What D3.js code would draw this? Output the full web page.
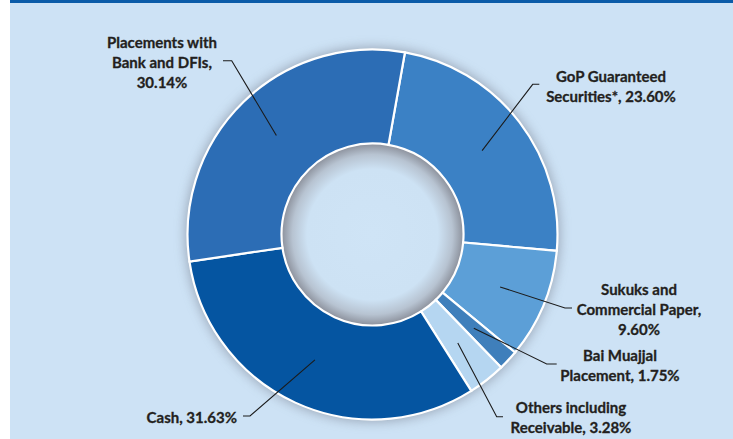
<!DOCTYPE html>
<html>
<head>
<meta charset="utf-8">
<script src="https://cdn.jsdelivr.net/npm/d3@7"></script>
<style>
  html, body { margin: 0; padding: 0; background: #ffffff; }
  svg { display: block; }
  text { font-family: Lato, "Open Sans", sans-serif; font-weight: 700; fill: #231f20; stroke: #231f20; stroke-width: 0.3px; }
</style>
</head>
<body>
<svg id="chart" width="733" height="439"></svg>
<script>
// Portfolio composition, clockwise from just right of 12 o'clock
const categories = [
  "GoP Guaranteed Securities*",
  "Sukuks and Commercial Paper",
  "Bai Muajjal Placement",
  "Others including Receivable",
  "Cash",
  "Placements with Bank and DFIs"
];
const shares = [23.60, 9.60, 1.75, 3.28, 31.63, 30.14];
const labelLines = [
  ["GoP Guaranteed", "Securities*, 23.60%"],
  ["Sukuks and", "Commercial Paper,", "9.60%"],
  ["Bai Muajjal", "Placement, 1.75%"],
  ["Others including", "Receivable, 3.28%"],
  ["Cash, 31.63%"],
  ["Placements with", "Bank and DFIs,", "30.14%"]
];
const sliceColors = ["#3b81c5", "#5c9fd7", "#3f7fbb", "#b5d6f1", "#0555a1", "#2c6db5"];

// Label placement: text anchor point, leader elbow and leader end
const labelLayout = [
  { x: 611, y: 82,  anchor: "middle", elbow: [532.7, 84.3], end: [539.3, 84.3] },
  { x: 639, y: 295, anchor: "middle", elbow: [565, 308],   end: [572, 308] },
  { x: 620, y: 361, anchor: "middle", elbow: [546.7, 364], end: [556.7, 364] },
  { x: 571, y: 413, anchor: "middle", elbow: [496.7, 416.7], end: [503, 416.7] },
  { x: 237, y: 423, anchor: "end",    elbow: [250, 416],   end: [243, 416] },
  { x: 162, y: 48,  anchor: "middle", elbow: [231.7, 60.7], end: [223, 60.7] }
];

const W = 733, H = 439;
const cx = 372.5, cy = 234.5, rOuter = 185, rInner = 91;
const lineHeight = 20;

const svg = d3.select("#chart");
const defs = svg.append("defs");

// soft shadow around the ring
const blur = defs.append("filter").attr("id", "ringShadow")
  .attr("x", "-20%").attr("y", "-20%").attr("width", "140%").attr("height", "140%");
blur.append("feGaussianBlur").attr("stdDeviation", 6);

// inner hole shading
const hole = defs.append("radialGradient").attr("id", "holeShade");
hole.append("stop").attr("offset", "0%").attr("stop-color", "#cfe4f6");
hole.append("stop").attr("offset", "72%").attr("stop-color", "#cde2f4");
hole.append("stop").attr("offset", "88%").attr("stop-color", "#b7c3d1");
hole.append("stop").attr("offset", "100%").attr("stop-color", "#8b909b");

// panel
svg.append("rect").attr("x", 0).attr("y", 0).attr("width", W).attr("height", H).attr("fill", "#ffffff");
svg.append("rect").attr("x", 10).attr("y", 0).attr("width", W - 10).attr("height", H).attr("fill", "#cde2f5");
svg.append("rect").attr("x", 10).attr("y", 0).attr("width", W - 10).attr("height", 3).attr("fill", "#0b5ba8");

const g = svg.append("g").attr("transform", `translate(${cx},${cy})`);

g.append("circle").attr("r", rOuter + 2).attr("fill", "#6e7583").attr("opacity", 0.55)
  .attr("filter", "url(#ringShadow)");

const startOffset = 10.1 * Math.PI / 180;
const pie = d3.pie().sort(null).value(d => d)
  .startAngle(startOffset).endAngle(startOffset + 2 * Math.PI);
const arcs = pie(shares);
const arc = d3.arc().innerRadius(rInner).outerRadius(rOuter);

g.append("circle").attr("r", rInner).attr("fill", "url(#holeShade)");

g.selectAll("path.slice").data(arcs).join("path")
  .attr("class", "slice")
  .attr("d", arc)
  .attr("fill", (d, i) => sliceColors[i])
  .attr("stroke", "#ffffff")
  .attr("stroke-width", 2.2)
  .attr("stroke-linejoin", "miter");

// leader lines from slice centroids
const line = d3.line();
svg.selectAll("path.leader").data(arcs).join("path")
  .attr("class", "leader")
  .attr("d", (d, i) => {
    const c = arc.centroid(d);
    const L = labelLayout[i];
    return line([[cx + c[0], cy + c[1]], L.elbow, L.end]);
  })
  .attr("fill", "none")
  .attr("stroke", "#1b1b1b")
  .attr("stroke-width", 1.1);

// labels
svg.selectAll("text.lbl").data(labelLines).join("text")
  .attr("class", "lbl")
  .attr("font-size", 15)
  .attr("text-anchor", (d, i) => labelLayout[i].anchor)
  .each(function (lines, i) {
    const L = labelLayout[i];
    d3.select(this).selectAll("tspan").data(lines).join("tspan")
      .attr("x", L.x)
      .attr("y", (s, k) => L.y + k * lineHeight)
      .text(s => s);
  });
</script>
</body>
</html>
